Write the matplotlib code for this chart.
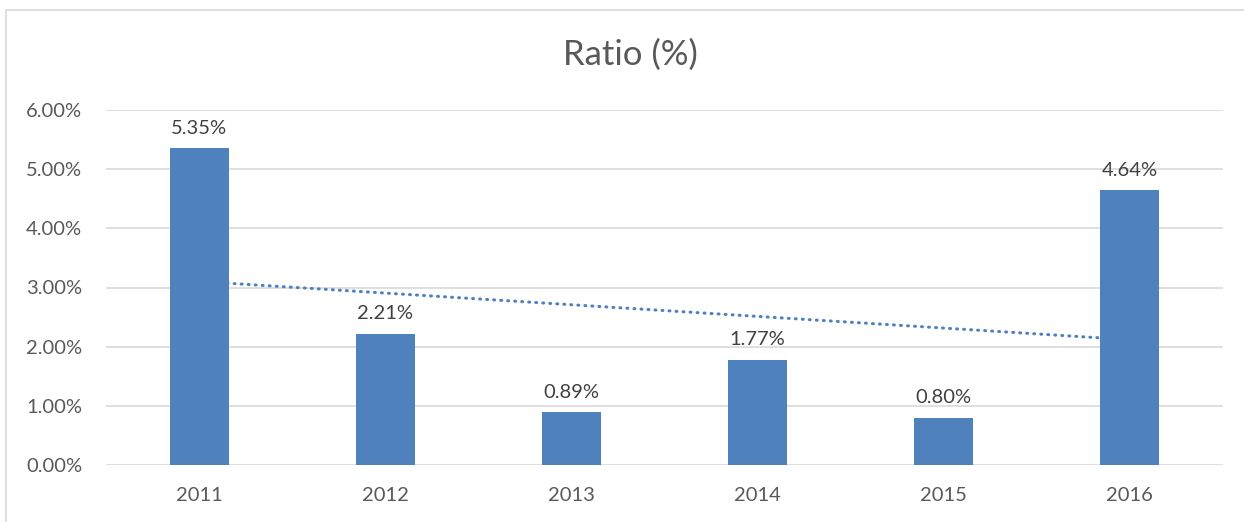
import numpy as np
import matplotlib.pyplot as plt
from matplotlib.patches import Rectangle

years = ["2011", "2012", "2013", "2014", "2015", "2016"]
ratio = [5.35, 2.21, 0.89, 1.77, 0.80, 4.64]
y_ticks = [0, 1, 2, 3, 4, 5, 6]

bar_color = "#4F81BD"
text_color = "#595959"
plt.rcParams['font.family'] = ['Lato', 'DejaVu Sans']

fig = plt.figure(figsize=(12.44, 5.22), dpi=100)
fig.patches.append(Rectangle((6 / 1244, -0.1), 1.2, 1 - 10 / 522 + 0.1,
                             transform=fig.transFigure, fill=False,
                             edgecolor="#D9D9D9", linewidth=1.2))
ax = fig.add_axes([106 / 1244, 57 / 522, (1223 - 106) / 1244, (465 - 110) / 522])

x = np.arange(len(years))
ax.bar(x, ratio, width=0.317, color=bar_color, zorder=3)

# linear trendline (drawn behind bars like excel)
k, b = np.polyfit(x, ratio, 1)
ax.plot(x, k * x + b, color=bar_color, linewidth=2.2,
        linestyle=(0, (0.3, 2.0)), dash_capstyle='round', zorder=2)

for xi, v in zip(x, ratio):
    ax.text(xi, v + 0.2, "%.2f%%" % v, ha='center', va='bottom',
            fontsize=14.5, color="#404040")

ax.set_xlim(-0.5, len(years) - 0.5)
ax.set_ylim(0, 6)
ax.set_yticks(y_ticks)
ax.set_yticklabels(["%.2f%%" % t for t in y_ticks])
ax.set_xticks(x)
ax.set_xticklabels(years)
ax.tick_params(length=0, labelsize=14.5, labelcolor=text_color)
ax.tick_params(axis='x', pad=16)
ax.tick_params(axis='y', pad=17)
ax.grid(axis='y', color="#D9D9D9", linewidth=1.2, zorder=0)
for s in ax.spines.values():
    s.set_visible(False)

fig.text(630 / 1244, 1 - 55 / 522, "Ratio (%)", fontsize=25, color=text_color,
         ha='center', va='center')

fig.savefig("out.png", dpi=100)
